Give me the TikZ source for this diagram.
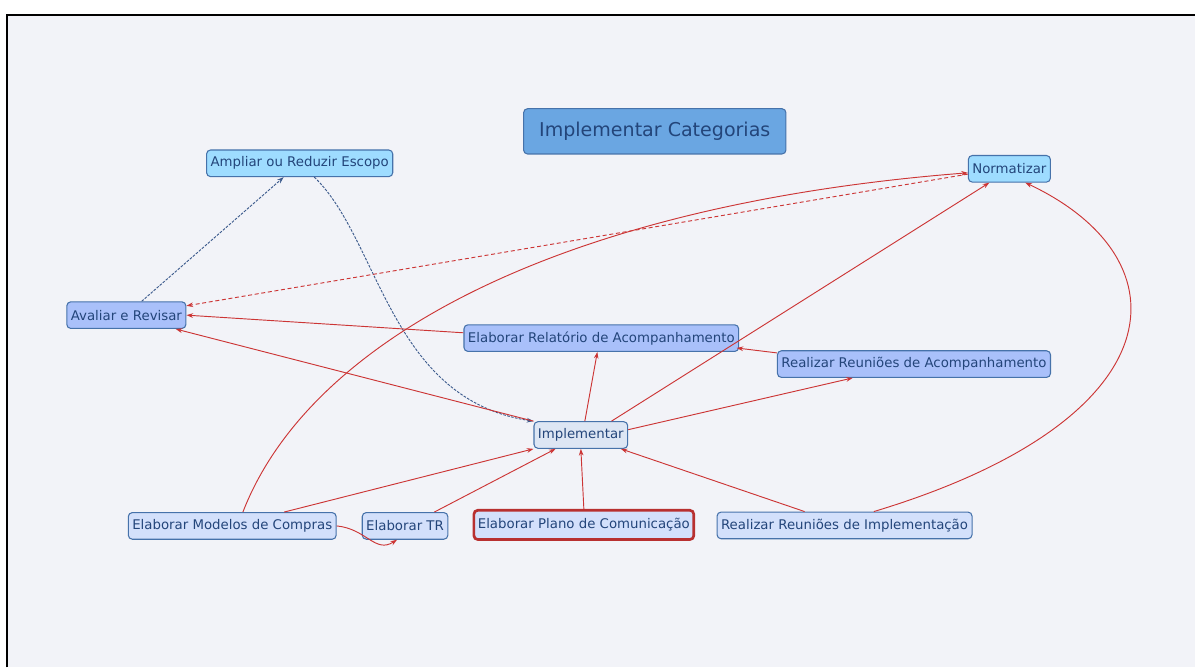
\documentclass[tikz,border=0pt]{standalone}
\usepackage{fontspec}
\setmainfont{DejaVu Sans}
\usetikzlibrary{arrows.meta}

\definecolor{fundo}{HTML}{F2F3F8}
\definecolor{borda}{HTML}{4672AA}
\definecolor{texto}{HTML}{23457A}
\definecolor{titulo}{HTML}{6AA6E2}
\definecolor{ciano}{HTML}{9EDCFF}
\definecolor{lilas}{HTML}{A9C0FA}
\definecolor{claro}{HTML}{D3E0FB}
\definecolor{cinza}{HTML}{DDE6F4}
\definecolor{vermelho}{HTML}{CC3535}
\definecolor{tracejado}{HTML}{3E5C8E}

\tikzset{
  caixa/.style={draw=borda, line width=0.8pt, rounded corners=3pt, text=texto,
    font=\fontsize{10}{12}\selectfont, minimum height=20pt, inner xsep=3pt},
  seta/.style={draw=vermelho, line width=0.7pt, -{Stealth[length=5pt,width=3.5pt]}},
  setatrac/.style={draw=tracejado, line width=0.7pt, dash pattern=on 2pt off 1pt,
    -{Stealth[length=5pt,width=3.5pt]}}
}

\begin{document}
\begin{tikzpicture}[x=0.75pt,y=-0.75pt]
  % fundo e moldura
  \fill[white] (0,0) rectangle (1196,668);
  \fill[fundo] (7,15) rectangle (1196,668);
  \draw[line width=2pt] (7,668) -- (7,15) -- (1196,15);

  % titulo
  \node[caixa, fill=titulo, font=\fontsize{14.3}{17}\selectfont,
    minimum width=197pt, minimum height=34pt] (tit) at (655.5,131.5) {Implementar Categorias};

  % caixas
  \node[caixa, fill=ciano] (ampl) at (300,163.5) {Ampliar ou Reduzir Escopo};
  \node[caixa, fill=ciano] (norm) at (1010.5,169) {Normatizar};
  \node[caixa, fill=lilas] (aval) at (126.5,315.5) {Avaliar e Revisar};
  \node[caixa, fill=lilas] (rel) at (602,338.5) {Elaborar Relatório de Acompanhamento};
  \node[caixa, fill=lilas] (acomp) at (915,364.5) {Realizar Reuniões de Acompanhamento};
  \node[caixa, fill=cinza] (impl) at (581.5,435.5) {Implementar};
  \node[caixa, fill=claro] (mod) at (232.5,526.5) {Elaborar Modelos de Compras};
  \node[caixa, fill=claro] (tr) at (405.5,526.5) {Elaborar TR};
  \node[caixa, fill=claro, draw=vermelho!90!black, line width=2pt,
    minimum height=22pt] (plano) at (584.5,525.5) {Elaborar Plano de Comunicação};
  \node[caixa, fill=claro] (rimp) at (845.5,526) {Realizar Reuniões de Implementação};

  % ligacoes tracejadas
  \draw[setatrac] ([xshift=11.5pt]aval.north) -- ([xshift=-12pt]ampl.south);
  \draw[setatrac] ([xshift=11pt]ampl.south) .. controls (380,240) and (390,400) .. (impl.north west);
  \draw[seta, densely dashed] ([yshift=-4pt]norm.west) -- ([yshift=7pt]aval.east);

  % ligacoes
  \draw[seta] ([xshift=8pt]mod.north) .. controls (310,340) and (560,205) .. ([yshift=-3pt]norm.west);
  \draw[seta] ([yshift=4pt]rel.west) -- (aval.east);
  \draw[seta] (impl.north west) -- ([xshift=37pt]aval.south);
  \draw[seta] ([xshift=3pt]impl.north) -- ([xshift=-3pt]rel.south);
  \draw[seta] ([yshift=-2pt]acomp.north west) -- ([xshift=-2pt,yshift=3pt]rel.south east);
  \draw[seta] ([yshift=4pt]impl.east) -- ([xshift=-46pt]acomp.south);
  \draw[seta] ([xshift=23pt]impl.north) -- ([xshift=-15pt]norm.south);
  \draw[seta] ([xshift=39pt]mod.north) -- (impl.south west);
  \draw[seta] (mod.east) .. controls +(30,3) and +(-22,14) .. ([xshift=-6pt]tr.south);
  \draw[seta] ([xshift=22pt]tr.north) -- ([xshift=-19pt]impl.south);
  \draw[seta] (plano.north) -- (impl.south);
  \draw[seta] ([xshift=-30pt]rimp.north) -- ([xshift=30pt]impl.south);
  \draw[seta] ([xshift=22pt]rimp.north) .. controls +(305,-92) and +(163,77) .. ([xshift=12pt]norm.south);
\end{tikzpicture}
\end{document}
